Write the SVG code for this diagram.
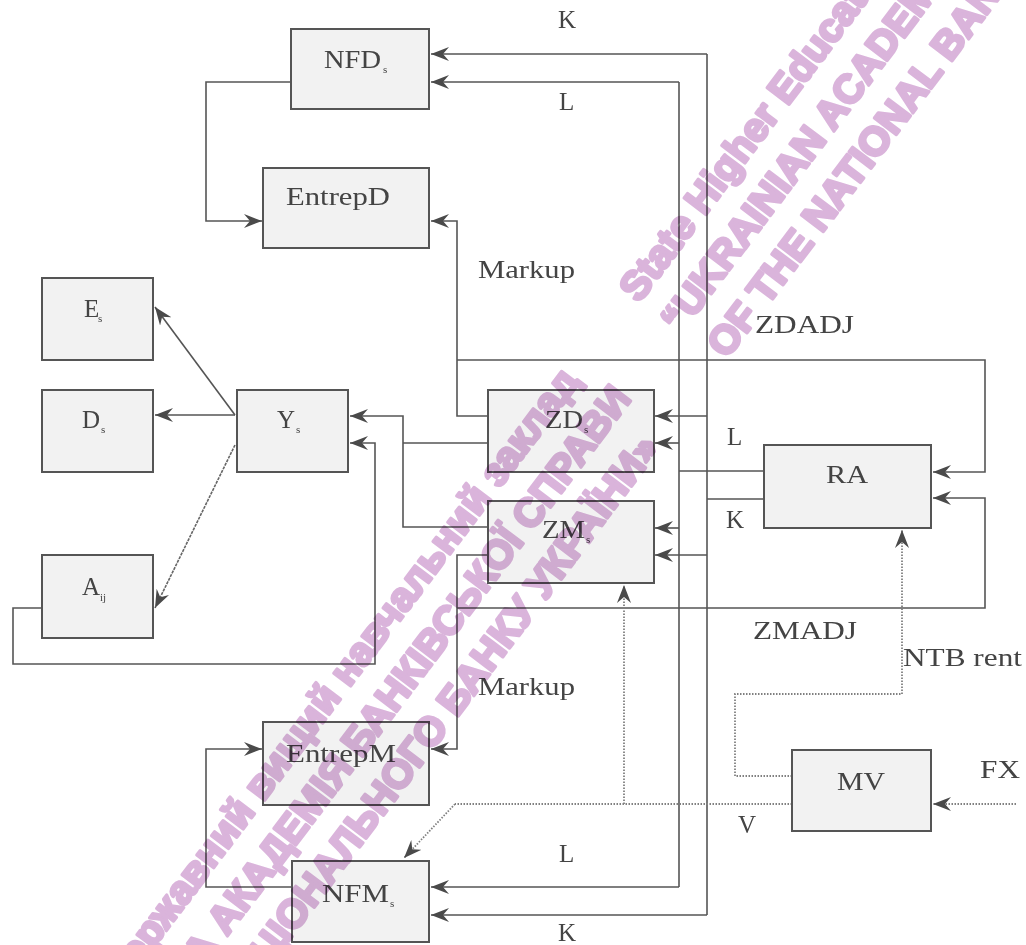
<svg xmlns="http://www.w3.org/2000/svg" width="1026" height="945" viewBox="0 0 1026 945">
<defs>
<marker id="arr" viewBox="0 0 18 14" refX="18" refY="7" markerWidth="18" markerHeight="14" markerUnits="userSpaceOnUse" orient="auto">
<path d="M0,0 L18,7 L0,14 L6,7 z" fill="#4a4a4a"/>
</marker>
<style>
.box{fill:#f2f2f2;stroke:#555;stroke-width:2}
.ln{fill:none;stroke:#555;stroke-width:1.6}
.ar{fill:none;stroke:#555;stroke-width:1.6;marker-end:url(#arr)}
.dt{fill:none;stroke:#808080;stroke-width:1.8;stroke-dasharray:1.5 1.5}
.dta{fill:none;stroke:#808080;stroke-width:1.8;stroke-dasharray:1.5 1.5;marker-end:url(#arr)}
.fn{fill:none;stroke:#666;stroke-width:1.6;stroke-dasharray:3 1;marker-end:url(#arr)}
text{font-family:"Liberation Serif","Times New Roman",serif;font-size:25px;fill:#444}
.sub{font-size:11px}
.wm{mix-blend-mode:multiply}
.wm text{font-family:"Liberation Sans",Arial,sans-serif;font-weight:bold;font-size:40px;fill:#dab4db;stroke:#dab4db;stroke-width:3.2;stroke-linejoin:round}
</style>
</defs>
<rect width="1026" height="945" fill="#fff"/>
<g id="connectors">
<path class="ln" d="M707,54 V915"/>
<path class="ar" d="M707,54 H431"/>
<path class="ar" d="M707,915 H431"/>
<path class="ar" d="M707,416 H655"/>
<path class="ar" d="M707,555 H655"/>
<path class="ln" d="M764,499 H707"/>
<path class="ln" d="M679,82 V887"/>
<path class="ar" d="M679,82 H431"/>
<path class="ar" d="M679,887 H431"/>
<path class="ar" d="M679,443 H655"/>
<path class="ar" d="M679,528 H655"/>
<path class="ln" d="M764,471 H679"/>
<path class="ar" d="M291,82 H206 V221 H262"/>
<path class="ar" d="M292,887 H206 V749 H262"/>
<path class="ar" d="M488,416 H457 V221 H431"/>
<path class="ar" d="M457,360 H985 V472 H933"/>
<path class="ar" d="M457,608 H985 V498 H933"/>
<path class="ar" d="M488,555 H457 V749 H431"/>
<path class="ln" d="M488,443 H403"/>
<path class="ar" d="M488,527 H403 V416 H350"/>
<path class="ar" d="M42,608 H13 V664 H375 V443 H350"/>
<path class="ar" d="M235,415 L155,307"/>
<path class="ar" d="M235,415 H155"/>
<path class="fn" d="M235,445 L155,608"/>
<path class="dt" d="M792,804 H455"/>
<path class="dta" d="M455,804 L404,858"/>
<path class="dta" d="M624,804 V585"/>
<path class="dta" d="M792,776 H735 V694 H902 V530"/>
<path class="dta" d="M1016,804 H933"/>
</g>
<g id="labels">
<text x="558" y="28">K</text>
<text x="559" y="110">L</text>
<text x="478" y="278" textLength="97" lengthAdjust="spacingAndGlyphs">Markup</text>
<text x="755" y="333" textLength="99" lengthAdjust="spacingAndGlyphs">ZDADJ</text>
<text x="727" y="445">L</text>
<text x="726" y="528">K</text>
<text x="753" y="639" textLength="104" lengthAdjust="spacingAndGlyphs">ZMADJ</text>
<text x="903" y="666" textLength="119" lengthAdjust="spacingAndGlyphs">NTB rent</text>
<text x="478" y="695" textLength="97" lengthAdjust="spacingAndGlyphs">Markup</text>
<text x="980" y="778" textLength="40" lengthAdjust="spacingAndGlyphs">FX</text>
<text x="738" y="833">V</text>
<text x="559" y="862">L</text>
<text x="558" y="941">K</text>
</g>
<g id="NFDs"><rect class="box" x="291" y="29" width="138" height="80"/><text x="324" y="68" textLength="57" lengthAdjust="spacingAndGlyphs">NFD</text><text class="sub" x="383" y="73">s</text></g>
<g id="EntrepD"><rect class="box" x="263" y="168" width="166" height="80"/><text x="286" y="205" textLength="104" lengthAdjust="spacingAndGlyphs">EntrepD</text></g>
<g id="Es"><rect class="box" x="42" y="278" width="111" height="82"/><text x="84" y="317">E</text><text class="sub" x="98" y="322">s</text></g>
<g id="Ds"><rect class="box" x="42" y="390" width="111" height="82"/><text x="82" y="428">D</text><text class="sub" x="101" y="433">s</text></g>
<g id="Ys"><rect class="box" x="237" y="390" width="111" height="82"/><text x="277" y="428">Y</text><text class="sub" x="296" y="433">s</text></g>
<g id="Aij"><rect class="box" x="42" y="555" width="111" height="83"/><text x="82" y="595">A</text><text class="sub" x="100" y="601" font-size="13">ij</text></g>
<g id="ZDs"><rect class="box" x="488" y="390" width="166" height="82"/><text x="545" y="428" textLength="38" lengthAdjust="spacingAndGlyphs">ZD</text><text class="sub" x="584" y="433">s</text></g>
<g id="ZMs"><rect class="box" x="488" y="501" width="166" height="82"/><text x="542" y="538" textLength="43" lengthAdjust="spacingAndGlyphs">ZM</text><text class="sub" x="586" y="543">s</text></g>
<g id="RA"><rect class="box" x="764" y="445" width="167" height="83"/><text x="826" y="483" textLength="42" lengthAdjust="spacingAndGlyphs">RA</text></g>
<g id="EntrepM"><rect class="box" x="263" y="722" width="166" height="83"/><text x="286" y="762" textLength="110" lengthAdjust="spacingAndGlyphs">EntrepM</text></g>
<g id="NFMs"><rect class="box" x="292" y="861" width="137" height="81"/><text x="322" y="902" textLength="67" lengthAdjust="spacingAndGlyphs">NFM</text><text class="sub" x="390" y="907">s</text></g>
<g id="MV"><rect class="box" x="792" y="750" width="139" height="81"/><text x="837" y="790" textLength="48" lengthAdjust="spacingAndGlyphs">MV</text></g>
<g id="watermark" class="wm" transform="rotate(-53)">
<text x="142" y="693">State Higher Education Institution</text>
<text x="142" y="745">“UKRAINIAN ACADEMY OF BANKING</text>
<text x="150" y="797">OF THE NATIONAL BANK OF UKRAINE”</text>
<text x="45" y="693" text-anchor="end">Державний вищий навчальний заклад</text>
<text x="62" y="745" text-anchor="end">«УКРАЇНСЬКА АКАДЕМІЯ БАНКІВСЬКОЇ СПРАВИ</text>
<text x="40" y="797" text-anchor="end">НАЦІОНАЛЬНОГО БАНКУ УКРАЇНИ»</text>
</g>
</svg>
